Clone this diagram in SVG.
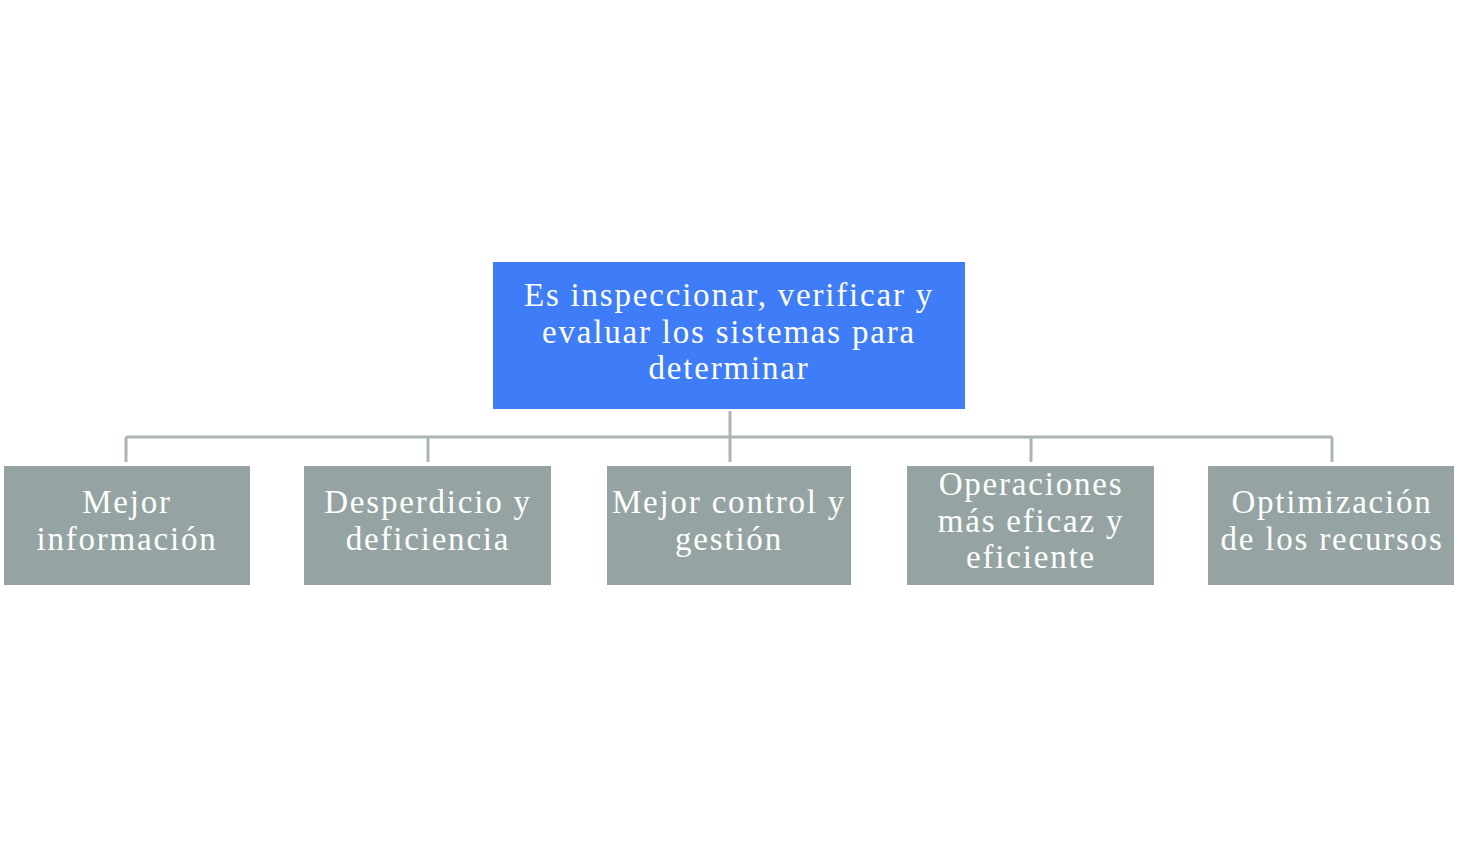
<svg xmlns="http://www.w3.org/2000/svg" width="1466" height="846" viewBox="0 0 1466 846">
<style>
.top{fill:#3f7cf7}
.child{fill:#95a4a2}
.t{font-family:"Liberation Serif","DejaVu Serif",serif;font-size:33px;letter-spacing:1.8px;fill:#ffffff;text-anchor:middle}
.c{stroke:#a9b6b4;stroke-width:3;fill:none}
</style>
<rect width="1466" height="846" fill="#ffffff"/>
<g id="connectors">
<path class="c" d="M730 411V462M126 437H1332M126 437V462M428 437V462M1031 437V462M1332 437V462"/>
</g>
<g id="root">
<rect class="top" x="493" y="262" width="472" height="147"/>
<text class="t" x="729" y="306">Es inspeccionar, verificar y</text>
<text class="t" x="729" y="343">evaluar los sistemas para</text>
<text class="t" x="729" y="379">determinar</text>
</g>
<g id="n1">
<rect class="child" x="4" y="466" width="246" height="119"/>
<text class="t" x="127" y="513">Mejor</text>
<text class="t" x="127" y="550">información</text>
</g>
<g id="n2">
<rect class="child" x="304" y="466" width="247" height="119"/>
<text class="t" x="428" y="513">Desperdicio y</text>
<text class="t" x="428" y="550">deficiencia</text>
</g>
<g id="n3">
<rect class="child" x="607" y="466" width="244" height="119"/>
<text class="t" x="729" y="513">Mejor control y</text>
<text class="t" x="729" y="550">gestión</text>
</g>
<g id="n4">
<rect class="child" x="907" y="466" width="247" height="119"/>
<text class="t" x="1031" y="495">Operaciones</text>
<text class="t" x="1031" y="532">más eficaz y</text>
<text class="t" x="1031" y="568">eficiente</text>
</g>
<g id="n5">
<rect class="child" x="1208" y="466" width="246" height="119"/>
<text class="t" x="1332" y="513">Optimización</text>
<text class="t" x="1332" y="550">de los recursos</text>
</g>
</svg>
